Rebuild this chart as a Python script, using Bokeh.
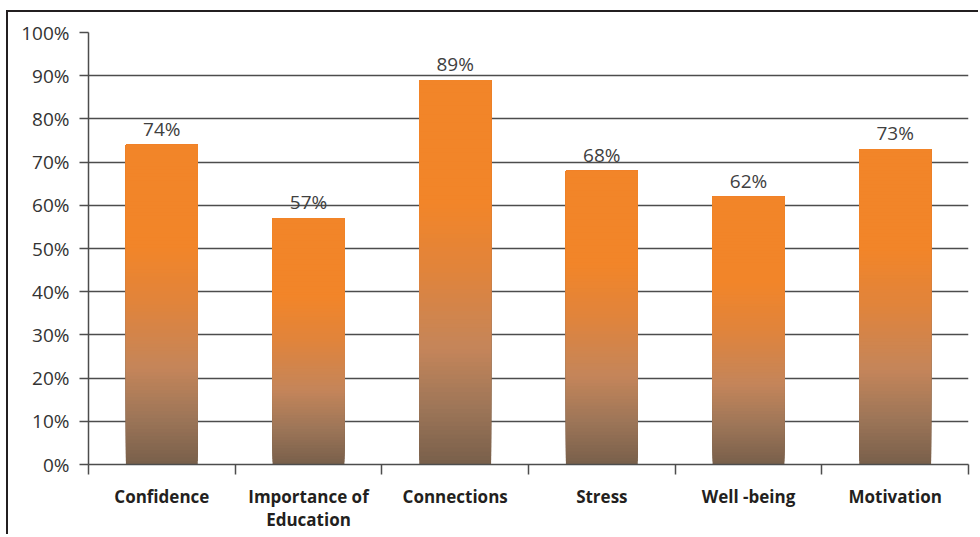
from bokeh.plotting import figure
from bokeh.models import FixedTicker, NumeralTickFormatter, Range1d, ColumnDataSource, LabelSet
from bokeh.core.properties import value
from bokeh.embed import file_html
from bokeh.resources import INLINE

categories = ["Confidence", "Importance of\nEducation", "Connections", "Stress", "Well -being", "Motivation"]
values = [0.74, 0.57, 0.89, 0.68, 0.62, 0.73]
value_labels = ["74%", "57%", "89%", "68%", "62%", "73%"]
y_ticks = [i / 10 for i in range(11)]

# gradient stops (fraction of bar height from bottom, colour)
stops = [(0.0, (0x78, 0x5F, 0x4A)), (0.15, (0x9E, 0x76, 0x58)), (0.3, (0xC4, 0x85, 0x5A)),
         (0.5, (0xE0, 0x84, 0x3C)), (0.68, (0xF2, 0x85, 0x29)), (1.0, (0xF2, 0x85, 0x29))]

def grad(t):
    for (t0, c0), (t1, c1) in zip(stops[:-1], stops[1:]):
        if t0 <= t <= t1:
            f = (t - t0) / (t1 - t0) if t1 > t0 else 0
            return "#%02x%02x%02x" % tuple(int(round(a + (b - a) * f)) for a, b in zip(c0, c1))
    return "#%02x%02x%02x" % stops[-1][1]

p = figure(width=972, height=524, output_backend="svg", toolbar_location=None,
           x_range=Range1d(0, 6), y_range=Range1d(0, 1),
           min_border_left=80, min_border_right=12, min_border_top=20, min_border_bottom=72,
           styles={"border-left": "2px solid #231F20", "border-top": "2px solid #231F20",
                   "margin-left": "6px", "margin-top": "10px"})
p.outline_line_color = None
p.background_fill_color = "white"
p.border_fill_color = "white"

N = 90
left, right, bottom, top, colors = [], [], [], [], []
half = 0.245
for i, v in enumerate(values):
    for k in range(N):
        left.append(i + 0.5 - half)
        right.append(i + 0.5 + half)
        bottom.append(v * k / N)
        top.append(v)
        colors.append(grad((k + 0.5) / N))
p.quad(left=left, right=right, bottom=bottom, top=top, fill_color=colors, line_color=None)

src = ColumnDataSource(dict(x=[i + 0.5 for i in range(len(values))], y=values, t=value_labels))
p.add_layout(LabelSet(x="x", y="y", text="t", source=src, text_align="center", text_baseline="bottom",
                      y_offset=3, text_font=value("Open Sans"), text_font_size=value("19px"),
                      text_color=value("#404040")))

# y axis
p.yaxis.ticker = FixedTicker(ticks=y_ticks)
p.yaxis.formatter = NumeralTickFormatter(format="0%")
p.yaxis.major_label_text_font = "Open Sans"
p.yaxis.major_label_text_font_size = "19px"
p.yaxis.major_label_text_color = "#333333"
p.yaxis.major_tick_out = 9
p.yaxis.major_tick_in = 0
p.yaxis.minor_tick_out = 0
p.yaxis.minor_tick_in = 0
p.yaxis.axis_line_color = "#4d4d4d"
p.yaxis.major_tick_line_color = "#4d4d4d"
p.yaxis.axis_line_width = 1.5
p.yaxis.major_tick_line_width = 1.5
p.yaxis.major_label_standoff = 10

# x axis: labels at centres, ticks at boundaries
p.xaxis.ticker = FixedTicker(ticks=[i + 0.5 for i in range(len(categories))],
                             minor_ticks=list(range(len(categories) + 1)))
p.xaxis.major_label_overrides = {i + 0.5: c for i, c in enumerate(categories)}
p.xaxis.major_tick_out = 0
p.xaxis.major_tick_in = 0
p.xaxis.minor_tick_out = 10
p.xaxis.minor_tick_in = 0
p.xaxis.minor_tick_line_color = "#4d4d4d"
p.xaxis.minor_tick_line_width = 1.5
p.xaxis.axis_line_color = "#4d4d4d"
p.xaxis.axis_line_width = 1.5
p.xaxis.major_label_text_font = "Open Sans"
p.xaxis.major_label_text_font_style = "bold"
p.xaxis.major_label_text_font_size = "17px"
p.xaxis.major_label_text_line_height = 1.0
p.xaxis.major_label_text_color = "#231F20"
p.xaxis.major_label_standoff = 10

p.xgrid.grid_line_color = None
p.ygrid.ticker = FixedTicker(ticks=y_ticks)
p.ygrid.grid_line_color = "#4d4d4d"
p.ygrid.grid_line_width = 1.5

open("out.html", "w").write(file_html(p, INLINE))
